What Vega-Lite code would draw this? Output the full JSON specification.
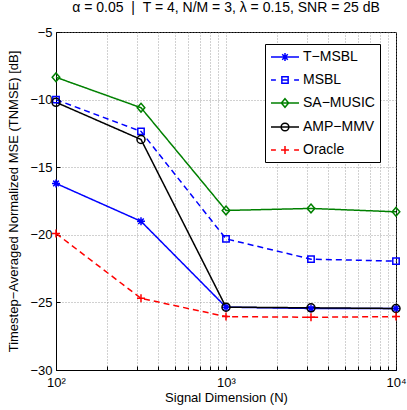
{
  "$schema": "https://vega.github.io/schema/vega-lite/v6.json",
  "width": 340,
  "height": 338,
  "autosize": "none",
  "padding": {"left": 56, "top": 32, "right": 11, "bottom": 40},
  "title": {"text": "α = 0.05 \u00a0|\u00a0 T = 4, N/M = 3, λ = 0.15, SNR = 25 dB", "anchor": "middle", "frame": "group", "offset": 11, "font": "Liberation Sans", "fontSize": 14, "fontWeight": "normal", "color": "black"},
  "config": {
    "view": {"stroke": "black", "strokeWidth": 1},
    "font": "Liberation Sans",
    "axis": {"domainColor": "black", "tickColor": "black", "labelColor": "black", "titleColor": "black", "labelFontSize": 13, "titleFontSize": 13, "titleFontWeight": "normal", "gridColor": "#8a8a8a", "gridDash": [1, 2], "gridOpacity": 1, "gridWidth": 0.8, "labelFont": "Liberation Sans", "titleFont": "Liberation Sans"}
  },
  "data": {"values": [
    {"series": "T−MSBL", "N": 100, "tnmse": -16.2},
    {"series": "T−MSBL", "N": 316.2, "tnmse": -19.0},
    {"series": "T−MSBL", "N": 1000, "tnmse": -25.35},
    {"series": "T−MSBL", "N": 3162, "tnmse": -25.45},
    {"series": "T−MSBL", "N": 10000, "tnmse": -25.45},
    {"series": "MSBL", "N": 100, "tnmse": -10.0},
    {"series": "MSBL", "N": 316.2, "tnmse": -12.35},
    {"series": "MSBL", "N": 1000, "tnmse": -20.3},
    {"series": "MSBL", "N": 3162, "tnmse": -21.8},
    {"series": "MSBL", "N": 10000, "tnmse": -21.95},
    {"series": "SA−MUSIC", "N": 100, "tnmse": -8.35},
    {"series": "SA−MUSIC", "N": 316.2, "tnmse": -10.6},
    {"series": "SA−MUSIC", "N": 1000, "tnmse": -18.2},
    {"series": "SA−MUSIC", "N": 3162, "tnmse": -18.05},
    {"series": "SA−MUSIC", "N": 10000, "tnmse": -18.3},
    {"series": "AMP−MMV", "N": 100, "tnmse": -10.2},
    {"series": "AMP−MMV", "N": 316.2, "tnmse": -12.95},
    {"series": "AMP−MMV", "N": 1000, "tnmse": -25.35},
    {"series": "AMP−MMV", "N": 3162, "tnmse": -25.4},
    {"series": "AMP−MMV", "N": 10000, "tnmse": -25.45},
    {"series": "Oracle", "N": 100, "tnmse": -19.9},
    {"series": "Oracle", "N": 316.2, "tnmse": -24.7},
    {"series": "Oracle", "N": 1000, "tnmse": -26.05},
    {"series": "Oracle", "N": 3162, "tnmse": -26.1},
    {"series": "Oracle", "N": 10000, "tnmse": -26.05}
  ]},
  "encoding": {
    "x": {"field": "N", "type": "quantitative", "scale": {"type": "log", "domain": [100, 10000], "nice": false},
      "axis": {"values": [100, 200, 300, 400, 500, 600, 700, 800, 900, 1000, 2000, 3000, 4000, 5000, 6000, 7000, 8000, 9000, 10000],
        "labelExpr": "datum.value == 100 ? '10²' : datum.value == 1000 ? '10³' : datum.value == 10000 ? '10⁴' : ''",
        "title": "Signal Dimension (N)", "tickSize": -4, "labelPadding": 10, "titlePadding": 2, "labelFlush": false}},
    "y": {"field": "tnmse", "type": "quantitative", "scale": {"domain": [-30, -5], "nice": false},
      "axis": {"values": [-30, -25, -20, -15, -10, -5], "title": "Timestep−Averaged Normalized MSE (TNMSE) [dB]", "tickSize": -4, "labelPadding": 8, "titlePadding": 9}}
  },
  "layer": [
    {
      "mark": {"type": "line", "strokeWidth": 1.5},
      "encoding": {
        "color": {"field": "series", "type": "nominal", "scale": {"domain": ["T−MSBL", "MSBL", "SA−MUSIC", "AMP−MMV", "Oracle"], "range": ["#0000ff", "#0000ff", "#008000", "#000000", "#ff0000"]}, "legend": null},
        "strokeDash": {"field": "series", "type": "nominal", "scale": {"domain": ["T−MSBL", "MSBL", "SA−MUSIC", "AMP−MMV", "Oracle"], "range": [[1, 0], [6, 4], [1, 0], [1, 0], [6, 4]]}, "legend": null}
      }
    },
    {
      "mark": {"type": "point", "filled": false, "strokeWidth": 1.5, "size": 64, "opacity": 1},
      "encoding": {
        "color": {"field": "series", "type": "nominal", "scale": {"domain": ["T−MSBL", "MSBL", "SA−MUSIC", "AMP−MMV", "Oracle"], "range": ["#0000ff", "#0000ff", "#008000", "#000000", "#ff0000"]}, "legend": null},
        "shape": {"field": "series", "type": "nominal", "scale": {"domain": ["T−MSBL", "MSBL", "SA−MUSIC", "AMP−MMV", "Oracle"], "range": [
          "M-1,0L1,0M0,-1L0,1M-0.7,-0.7L0.7,0.7M-0.7,0.7L0.7,-0.7",
          "M-0.8,-0.8L0.8,-0.8L0.8,0.8L-0.8,0.8Z",
          "M0,-1.1L0.95,0L0,1.1L-0.95,0Z",
          "M1,0A1,1 0 1,1 -1,0A1,1 0 1,1 1,0Z",
          "M-1,0L1,0M0,-1L0,1"
        ]}, "legend": null}
      }
    },
    {
      "transform": [{"filter": "false"}],
      "mark": {"type": "point", "filled": false, "strokeWidth": 1.5, "opacity": 1},
      "encoding": {
        "shape": {"field": "series", "type": "nominal", "scale": {"domain": ["T−MSBL", "MSBL", "SA−MUSIC", "AMP−MMV", "Oracle"], "range": [
          "M-1,0L3,0M0.43,0L1.57,0M1,-0.57L1,0.57M0.6,-0.4L1.4,0.4M0.6,0.4L1.4,-0.4",
          "M-1,0L-0.3,0M0.55,0L1.45,0M2.3,0L3,0M0.55,-0.45L1.45,-0.45L1.45,0.45L0.55,0.45Z",
          "M-1,0L3,0M1,-0.62L1.52,0L1,0.62L0.48,0Z",
          "M-1,0L3,0M1.55,0A0.55,0.55 0 1,1 0.45,0A0.55,0.55 0 1,1 1.55,0Z",
          "M-1,0L-0.3,0M2.3,0L3,0M0.43,0L1.57,0M1,-0.57L1,0.57"
        ]},
          "legend": {"orient": "none", "legendX": 209, "legendY": 12, "title": null, "padding": 5, "strokeColor": "black", "fillColor": "white", "symbolSize": 196, "symbolStrokeWidth": 1.5, "labelFontSize": 14, "labelFont": "Liberation Sans", "labelColor": "black", "labelOffset": 17, "rowPadding": 8}},
        "color": {"field": "series", "type": "nominal", "scale": {"domain": ["T−MSBL", "MSBL", "SA−MUSIC", "AMP−MMV", "Oracle"], "range": ["#0000ff", "#0000ff", "#008000", "#000000", "#ff0000"]},
          "legend": {"orient": "none", "legendX": 209, "legendY": 12, "title": null, "padding": 5, "strokeColor": "black", "fillColor": "white", "symbolSize": 196, "symbolStrokeWidth": 1.5, "labelFontSize": 14, "labelFont": "Liberation Sans", "labelColor": "black", "labelOffset": 17, "rowPadding": 8}}
      }
    }
  ],
  "resolve": {"scale": {"shape": "independent", "color": "independent"}}
}
